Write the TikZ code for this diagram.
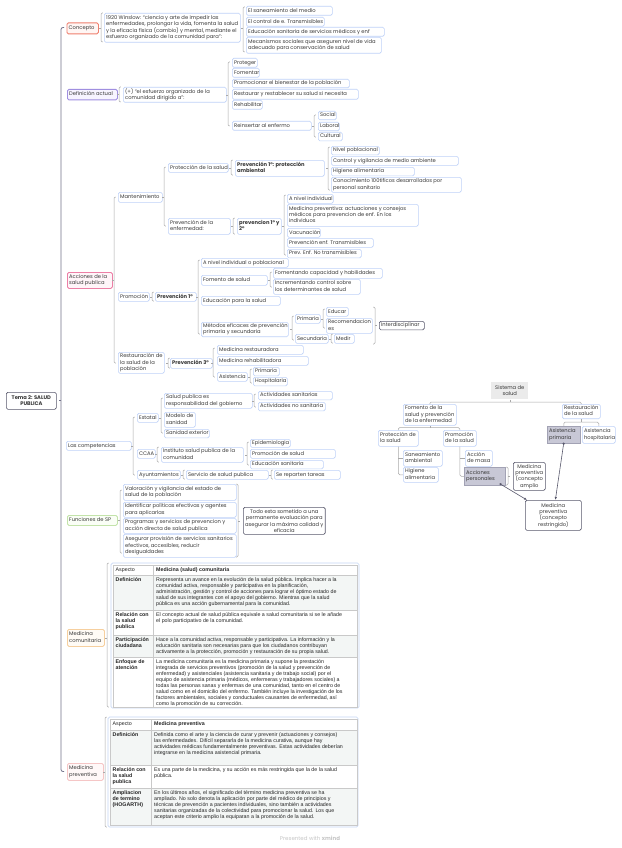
\documentclass[tikz,border=0pt]{standalone}
\usepackage{fontspec}
\setmainfont{Poppins}
\newfontfamily\tfont{Liberation Sans}
\usetikzlibrary{arrows.meta}
\definecolor{boxc}{HTML}{BFD2F8}
\definecolor{brkc}{HTML}{A9A9A9}
\definecolor{mainc}{HTML}{72728A}
\definecolor{txtc}{HTML}{383838}
\definecolor{ttxt}{HTML}{252525}
\definecolor{redc}{HTML}{EF7F6E}
\definecolor{redf}{HTML}{FFF6F4}
\definecolor{purc}{HTML}{A08FE0}
\definecolor{purf}{HTML}{F7F4FF}
\definecolor{pinkc}{HTML}{EC7FA6}
\definecolor{pinkf}{HTML}{FFF5F9}
\definecolor{grnc}{HTML}{C3E3AA}
\definecolor{grnf}{HTML}{FAFEF6}
\definecolor{orc}{HTML}{F6CF9E}
\definecolor{orf}{HTML}{FFFBF5}
\definecolor{lpc}{HTML}{F5C6C6}
\definecolor{lpf}{HTML}{FFF8F8}
\definecolor{dkc}{HTML}{58586C}
\definecolor{sgf}{HTML}{EBEBEB}
\definecolor{hgf}{HTML}{C8C8D6}
\definecolor{hgc}{HTML}{A2A2B4}
\definecolor{tfr}{HTML}{C6D7F6}
\definecolor{tln}{HTML}{C9C9C9}
\definecolor{trow}{HTML}{F3F6F5}
\newcommand\mfs{\fontsize{5.2}{6.4}\selectfont}
\newcommand\tfs{\fontsize{5.3}{6}\selectfont}
% left-aligned box
\newcommand\B[7][]{\node[bx,#1,minimum width=#5,minimum height=#6] (#2) at (#3,#4)
  {\makebox[\dimexpr#5pt-3.6pt\relax][l]{\begin{tabular}{@{}l@{}}#7\end{tabular}}};}
% centred box
\newcommand\C[7][]{\node[bx,align=center,#1,minimum width=#5,minimum height=#6] (#2) at (#3,#4) {#7};}
\newcommand\brc[4]{%
  \draw[brk, rounded corners=1.2pt] (#1+1.8,#2) -- (#1,#2) -- (#1,#3) -- (#1+1.8,#3);
  \draw[brk] (#1,0 |- #4.east) -- (#1-1.6,0 |- #4.east);}
\newcommand\sbr[4]{%
  \draw[brk, rounded corners=1.2pt] (#1-1.8,#2) -- (#1,#2) -- (#1,#3) -- (#1-1.8,#3);
  \draw[brk] (#1,0 |- #4.west) -- (#1+1.6,0 |- #4.west);}
\begin{document}
\begin{tikzpicture}[x=1pt,y=-1pt,font=\mfs,
  bx/.style={draw=boxc, line width=0.6pt, rounded corners=1.5pt, fill=white, anchor=north west,
    inner xsep=1.8pt, inner ysep=0.8pt, text=txtc},
  bf/.style={font=\bfseries\mfs},
  redb/.style={draw=redc, fill=redf, line width=0.8pt},
  purb/.style={draw=purc, fill=purf, line width=0.8pt},
  pinkb/.style={draw=pinkc, fill=pinkf, line width=0.8pt},
  grnb/.style={draw=grnc, fill=grnf, line width=0.8pt},
  orb/.style={draw=orc, fill=orf, line width=0.8pt},
  lpb/.style={draw=lpc, fill=lpf, line width=0.8pt},
  dkb/.style={draw=dkc, line width=0.7pt},
  sgb/.style={draw=none, fill=sgf, rounded corners=0pt},
  hgb/.style={draw=hgc, fill=hgf, rounded corners=0pt},
  brk/.style={draw=brkc, line width=0.5pt},
  mainln/.style={draw=mainc, line width=0.8pt},
  org/.style={draw=brkc, line width=0.5pt},
  rel/.style={draw=dkc, line width=0.6pt, {Circle[length=2.2pt]}-{Latex[length=3pt,width=2.4pt]}},
  tc/.style={font=\tfont\tfs, align=left, inner sep=0pt, text=ttxt, anchor=north west},
  tcb/.style={tc, font=\tfont\bfseries\tfs},
  tln/.style={draw=tln, line width=0.4pt}]
\useasboundingbox[fill=white] (0,0) rectangle (621,848);

% ---------- root and main line
\C[dkb,bf]{tema}{6}{392}{50}{17}{Tema 2: SALUD\\PUBLICA}
\draw[mainln, rounded corners=2pt] (64,27.5) -- (61,27.5) -- (61,771.5) -- (64,771.5);
\draw[mainln] (61,0 |- tema.east) -- (58.5,0 |- tema.east);

% ---------- Concepto
\B[redb]{concepto}{66.5}{22.5}{31.5}{11}{Concepto}
\B{winslow}{104}{13}{136}{29}{1920 Winslow: “ciencia y arte de impedir las\\enfermedades, prolongar la vida, fomenta la salud\\y la eficacia física (cambio) y mental, mediante el\\esfuerzo organizado de la comunidad para”:}
\B{san}{246}{6}{86}{9}{El saneamiento del medio}
\B{ctrl}{246}{17}{78}{9}{El control de e. Transmisibles}
\B{edu}{246}{27}{138}{9}{Educación sanitaria de servicios médicos y enf}
\B{mec}{246}{37}{135}{16}{Mecanismos sociales que aseguren nivel de vida\\adecuado para conservación de salud}
\brc{101}{13}{42}{concepto}
\brc{243}{7}{52}{winslow}

% ---------- Definicion actual
\B[purb]{defact}{67}{89}{50}{10.5}{Definición actual}
\B{deftext}{123}{87}{103}{15}{(+) “el esfuerzo organizado de la\\comunidad dirigido a”:}
\B{prot}{232}{58}{25}{9}{Proteger}
\B{fom}{232}{68}{27}{9}{Fomentar}
\B{promb}{232}{79}{117}{8.5}{Promocionar el bienestar de la población}
\B{rest}{232}{89}{126}{10}{Restaurar y restablecer su salud si necesita}
\B{rehab}{232}{100}{30}{9}{Rehabilitar}
\B{reins}{232}{121}{79}{9}{Reinsertar al enfermo}
\B{social}{318}{111}{18}{8.5}{Social}
\B{laboral}{318}{122}{21}{8.5}{Laboral}
\B{cultural}{318}{132}{24}{8.5}{Cultural}
\brc{119}{87}{102}{defact}
\brc{228}{62}{126}{deftext}
\brc{314}{115}{137}{reins}

% ---------- Acciones de la salud publica
\B[pinkb]{acciones}{67}{272}{45}{16}{Acciones de la\\salud publica}
\B{mant}{118}{192}{44}{10}{Mantenimiento}
\B{protsal}{168}{163}{60}{9}{Protección de la salud}
\B[bf]{prev1pa}{235}{160}{89}{16}{Prevención 1°: protección\\ambiental}
\B{nivpob}{331}{146}{48}{8.5}{Nivel poblacional}
\B{ctrlamb}{331}{156}{127}{9}{Control y vigilancia de medio ambiente}
\B{hig}{331}{167}{83}{8.5}{Higiene alimentaria}
\B{conoc}{331}{177}{130}{15}{Conocimiento 100tificos desarrollados por\\personal sanitario}
\B{prevenf}{168}{218}{62}{16}{Prevención de la\\enfermedad:}
\B[bf]{prev12}{237}{218}{44}{16}{prevencion 1° y\\2°}
\B{aniv}{287}{194}{46}{9}{A nivel individual}
\B{medprev}{287}{204}{131}{22}{Medicina preventiva: actuaciones y consejos\\médicos para prevencion de enf. En los\\individuos}
\B{vac}{287}{228}{33}{9}{Vacunación}
\B{prevtr}{287}{238}{86}{9}{Prevención enf. Transmisibles}
\B{prevnotr}{287}{249}{74}{8.5}{Prev. Enf. No transmisibles}
\B{promo}{118}{292}{31}{9}{Promoción}
\B[bf]{prev1}{155}{292}{41}{9}{Prevención 1°}
\B{anivpob}{201}{258}{87}{9}{A nivel individual o poblacional}
\B{fomsal}{201}{275}{66}{10}{Fomento de salud}
\B{fomcap}{273}{268}{109}{10}{Fomentando capacidad y habilidades}
\B{incr}{273}{279}{87}{15}{Incrementando control sobre\\los determinantes de salud}
\B{edusal}{201}{296}{79}{9}{Educación para la salud}
\B{metodos}{201}{322}{87}{14}{Métodos eficaces de prevención\\primaria y secundaria}
\B{prim}{295}{314}{25}{9}{Primaria}
\B{educar}{326}{307}{22}{9}{Educar}
\B{recom}{326}{318}{46}{15}{Recomendacion\\es}
\B{secun}{295}{334}{33}{9}{Secundaria}
\B{medir}{334}{334}{20}{9}{Medir}
\B[dkb]{interd}{379}{321}{45}{8.5}{Interdisciplinar}
\B{restpob}{118}{352}{46}{21}{Restauración de\\la salud de la\\población}
\B[bf]{prev3}{170}{358}{42}{10}{Prevención 3°}
\B{medrest}{217}{345}{86}{9}{Medicina restauradora}
\B{medrehab}{217}{356}{91}{9}{Medicina rehabilitadora}
\B{asist}{217}{372}{30}{9}{Asistencia}
\B{primaria2}{253}{367}{26}{8.5}{Primaria}
\B{hosp}{253}{377}{34}{8.5}{Hospitalaria}
\brc{114}{197}{363}{acciones}
\brc{164}{167}{226}{mant}
\brc{231}{160}{175}{protsal}
\brc{328}{147}{190}{prev1pa}
\brc{233}{218}{234}{prevenf}
\brc{284}{195}{255}{prev12}
\brc{152}{292}{301}{promo}
\brc{198}{260}{334}{prev1}
\brc{270}{272}{287}{fomsal}
\brc{292}{316}{340}{metodos}
\brc{323}{309}{328}{prim}
\brc{331}{334}{343}{secun}
\sbr{375}{307}{344}{interd}
\brc{168}{358}{368}{restpob}
\brc{213}{348}{377}{prev3}
\brc{250}{369}{383}{asist}

% ---------- Las competencias
\B{comp}{66}{441}{65}{9}{Las competencias}
\B{estatal}{137}{413}{21}{9}{Estatal}
\B{spresp}{164}{393}{88}{15}{Salud publica es\\responsabilidad del gobierno}
\B{actsan}{258}{391}{74}{8.5}{Actividades sanitarias}
\B{actnosan}{258}{402}{67}{8.5}{Actividades no sanitaria}
\B{modelo}{164}{412}{31}{15}{Modelo de\\sanidad}
\B{sanext}{164}{429}{45}{8.5}{Sanidad exterior}
\B{ccaa}{137}{449}{18}{9}{CCAA}
\B{inst}{161}{447}{82}{15}{Instituto salud publica de la\\comunidad}
\B{epid}{250}{439}{40}{8}{Epidemiologia}
\B{promsal}{250}{449}{85}{9}{Promoción de salud}
\B{edusan}{250}{460}{73}{8.5}{Educación sanitaria}
\B{ayunt}{137}{470}{43}{9}{Ayuntamientos}
\B{servsp}{186}{470}{82}{9}{Servicio de salud publica}
\B{sereparten}{274}{470}{66}{9}{Se reparten tareas}
\brc{133}{417}{475}{comp}
\brc{161}{398}{433}{estatal}
\brc{254}{394}{407}{spresp}
\brc{157}{447}{462}{ccaa}
\brc{247}{442}{465}{inst}
\brc{183}{470}{479}{ayunt}
\brc{271}{470}{479}{servsp}

% ---------- Funciones de SP
\B[grnb]{func}{67}{515}{50}{10}{Funciones de SP}
\B{f1}{123}{484}{113}{16}{Valoración y vigilancia del estado de\\salud de la población}
\B{f2}{123}{502}{113}{15}{Identificar políticas efectivas y agentes\\para aplicarlas}
\B{f3}{123}{518}{113}{15}{Programas y servicios de prevencion y\\acción directa de salud publica}
\B{f4}{123}{534}{113}{23}{Asegurar provisión de servicios sanitarios\\efectivos, accesibles, reducir\\desigualdades}
\C[dkb]{todo}{243}{507}{81}{27}{Todo esta sometido a una\\permanente evaluación para\\asegurar la máxima calidad y\\eficacia}
\brc{120}{490}{553}{func}
\sbr{238}{484}{557}{todo}

% ---------- Medicina comunitaria (table)
\B[orb]{medcom}{67}{629}{37}{17}{Medicina\\comunitaria}
\draw[draw=tfr, line width=0.7pt, rounded corners=1.5pt] (111,563) rectangle (359,708);
\fill[trow] (113,575) rectangle (357,610);
\fill[trow] (113,635) rectangle (357,657);
\draw[tln] (113,565) rectangle (357,707);
\foreach \yy in {575,610,635,657} \draw[tln] (113,\yy) -- (357,\yy);
\draw[tln] (153,565) -- (153,707);
\node[tc, anchor=west] (t1h1) at (115.5,570) {Aspecto};
\node[tcb, anchor=west] (t1h2) at (156,570) {Medicina (salud) comunitaria};
\node[tcb] (t1r1a) at (115.5,577.5) {Definición};
\node[tc] (t1r1b) at (156,577.5) {Representa un avance en la evolución de la salud pública. Implica hacer a la\\comunidad activa, responsable y participativa en la planificación,\\administración, gestión y control de acciones para lograr el óptimo estado de\\salud de sus integrantes con el apoyo del gobierno. Mientras que la salud\\pública es una acción gubernamental para la comunidad.};
\node[tcb] (t1r2a) at (115.5,612.5) {Relación con\\la salud\\publica};
\node[tc] (t1r2b) at (156,612.5) {El concepto actual de salud pública equivale a salud comunitaria si se le añade\\el polo participativo de la comunidad.};
\node[tcb] (t1r3a) at (115.5,637.5) {Participación\\ciudadana};
\node[tc] (t1r3b) at (156,637.5) {Hace a la comunidad activa, responsable y participativa. La información y la\\educación sanitaria son necesarias para que los ciudadanos contribuyan\\activamente a la protección, promoción y restauración de su propia salud.};
\node[tcb] (t1r4a) at (115.5,659.5) {Enfoque de\\atención};
\node[tc] (t1r4b) at (156,659.5) {La medicina comunitaria es la medicina primaria y supone la prestación\\integrada de servicios preventivos (promoción de la salud y prevención de\\enfermedad) y asistenciales (asistencia sanitaria y de trabajo social) por el\\equipo de asistencia primaria (médicos, enfermeras y trabajadores sociales) a\\todas las personas sanas y enfermas de una comunidad, tanto en el centro de\\salud como en el domicilio del enfermo. También incluye la investigación de los\\factores ambientales, sociales y conductuales causantes de enfermedad, así\\como la promoción de su corrección.};
\brc{107}{563}{707}{medcom}

% ---------- Medicina preventiva (table)
\B[lpb]{medprevn}{67}{763}{36}{17}{Medicina\\preventiva}
\draw[draw=tfr, line width=0.7pt, rounded corners=1.5pt] (108,717) rectangle (358,827);
\fill[trow] (110,730) rectangle (357,765);
\fill[trow] (110,788) rectangle (357,825);
\draw[tln] (110,719) rectangle (357,825);
\foreach \yy in {730,765,788} \draw[tln] (110,\yy) -- (357,\yy);
\draw[tln] (151,719) -- (151,825);
\node[tc, anchor=west] (t2h1) at (112.5,724.5) {Aspecto};
\node[tcb, anchor=west] (t2h2) at (154,724.5) {Medicina preventiva};
\node[tcb] (t2r1a) at (112.5,732.5) {Definición};
\node[tc] (t2r1b) at (154,732.5) {Definida como el arte y la ciencia de curar y prevenir (actuaciones y consejos)\\las enfermedades. Difícil separarla de la medicina curativa, aunque hay\\actividades médicas fundamentalmente preventivas. Estas actividades deberían\\integrarse en la medicina asistencial primaria.};
\node[tcb] (t2r2a) at (112.5,767.5) {Relación con\\la salud\\publica};
\node[tc] (t2r2b) at (154,767.5) {Es una parte de la medicina, y su acción es más restringida que la de la salud\\pública.};
\node[tcb] (t2r3a) at (112.5,790.5) {Ampliacion\\de termino\\(HOGARTH)};
\node[tc] (t2r3b) at (154,790.5) {En los últimos años, el significado del término medicina preventiva se ha\\ampliado. No solo denota la aplicación por parte del médico de principios y\\técnicas de prevención a pacientes individuales, sino también a actividades\\sanitarias organizadas de la colectividad para promocionar la salud. Los que\\aceptan este criterio amplio la equiparan a la promoción de la salud.};
\brc{105}{717}{827}{medprevn}

% ---------- Sistema de salud (right diagram)
\C[sgb]{sis}{491}{382}{37}{17}{Sistema de\\salud}
\B{fomprev}{403}{404}{53}{21}{Fomento de la\\salud y prevención\\de la enfermedad}
\B{restsal}{562}{404}{38}{14}{Restauración\\de la salud}
\B{protsal2}{378}{430}{40}{16}{Protección de\\la salud}
\B{promsal2}{443}{430}{33}{16}{Promoción\\de la salud}
\B{saneam}{403}{450}{39}{16}{Saneamiento\\ambiental}
\B{higal}{403}{467}{35}{15}{Higiene\\alimentaria}
\B{accmas}{465}{450}{27}{16}{Acción\\de masa}
\B[hgb]{accper}{464}{467}{41}{18}{Acciones\\personales}
\C[dkb]{medamp}{513}{462}{32}{28}{Medicina\\preventiva\\(concepto\\amplio}
\B[hgb]{asisprim}{547}{426}{33}{17}{Asistencia\\primaria}
\B{asishosp}{582}{426}{33}{17}{Asistencia\\hospitalaria}
\C[dkb]{medres}{525}{500}{56}{30}{Medicina\\preventiva\\(concepto\\restringido)}
\draw[org] (sis.south) -- (sis.south |- 0,402);
\draw[org, rounded corners=1.5pt] (fomprev.north) -- (fomprev.north |- 0,402) -- (restsal.north |- 0,402) -- (restsal.north);
\draw[org] (fomprev.south) -- (fomprev.south |- 0,427.5);
\draw[org, rounded corners=1.5pt] (protsal2.north) -- (protsal2.north |- 0,427.5) -- (promsal2.north |- 0,427.5) -- (promsal2.north);
\draw[org, rounded corners=1.5pt] (protsal2.south) -- (protsal2.south |- higal.west) -- (higal.west);
\draw[org] (protsal2.south |- saneam.west) -- (saneam.west);
\draw[org, rounded corners=1.5pt] (promsal2.south) -- (promsal2.south |- accper.west) -- (accper.west);
\draw[org] (promsal2.south |- accmas.west) -- (accmas.west);
\draw[org] (restsal.south) -- (restsal.south |- 0,422);
\draw[org, rounded corners=1.5pt] (asisprim.north) -- (asisprim.north |- 0,422) -- (asishosp.north |- 0,422) -- (asishosp.north);
\sbr{508}{467}{485}{medamp}
\draw[rel] ([shift={(-6,-2)}]accper.south east) -- ([shift={(2,0)}]medres.north west);
\draw[rel] ([shift={(0,-1)}]asisprim.south) -- ([shift={(2,0)}]medres.north);

% ---------- footer
\node[font=\fontsize{5.5}{6}\selectfont, text=black!22] (foot) at (310,838) {Presented with \textbf{xmind}};
\end{tikzpicture}
\end{document}
